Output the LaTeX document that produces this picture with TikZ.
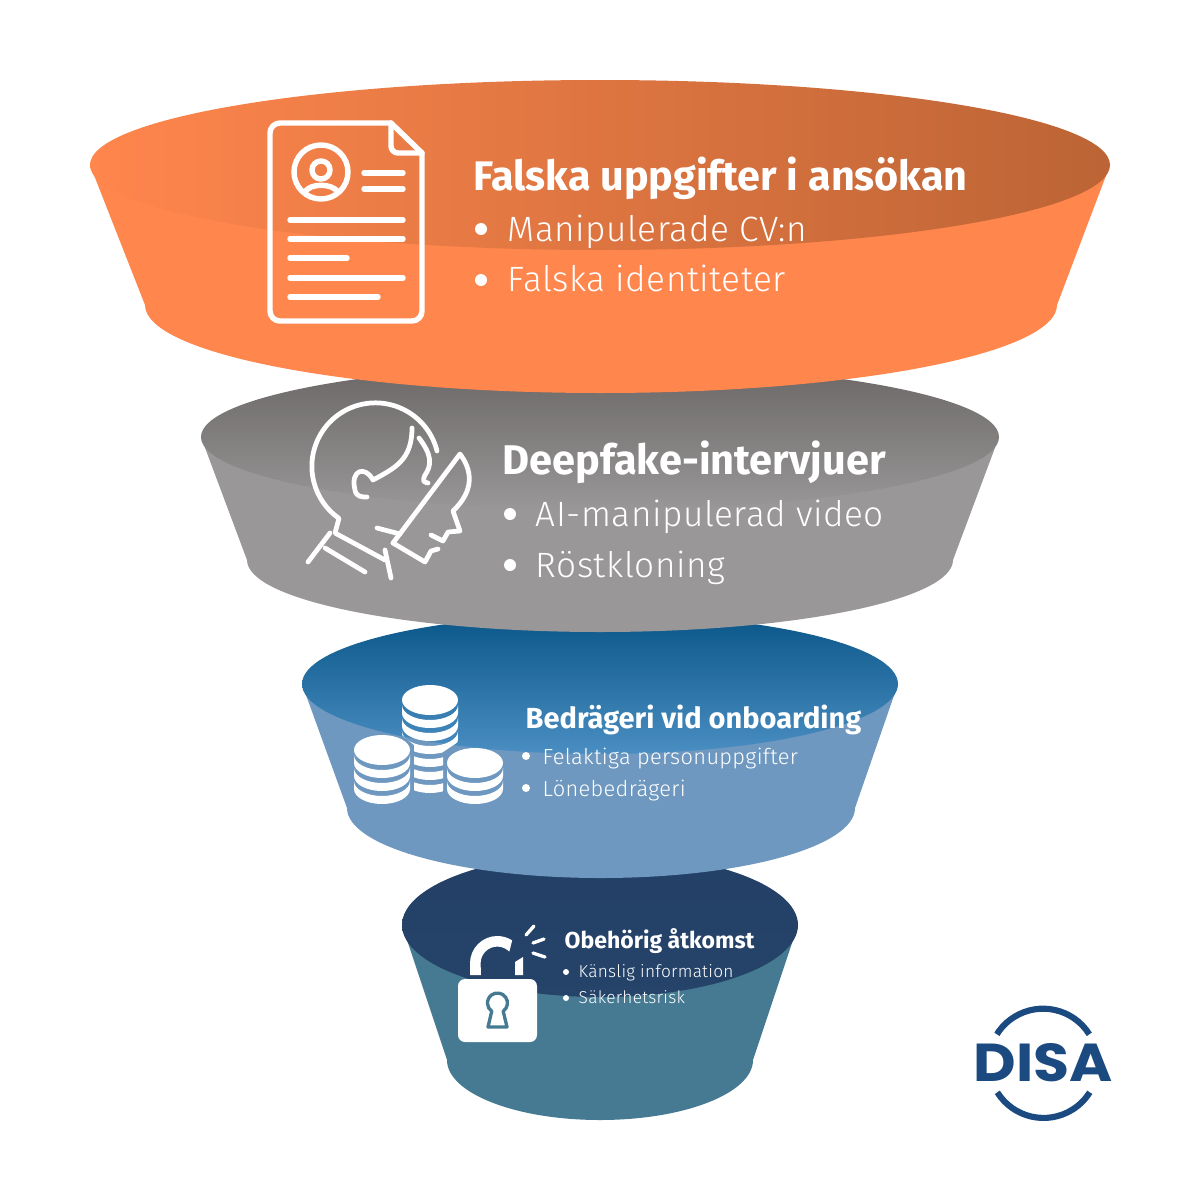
\documentclass[tikz,border=0pt]{standalone}
\usepackage{fontspec}
\usepackage{graphicx}
\setmainfont{Fira Sans}
\newfontfamily\lightfont[LetterSpace=1.5]{Fira Sans Light}
\newfontfamily\logofont{Poppins}
\definecolor{orangebody}{HTML}{FF864D}
\definecolor{orangedark}{HTML}{BC6435}
\definecolor{graybody}{HTML}{999797}
\definecolor{graytop}{HTML}{6A6766}
\definecolor{bluebody}{HTML}{6E98BF}
\definecolor{bluetop}{HTML}{0A5688}
\definecolor{bluelow}{HTML}{4A8EC2}
\definecolor{tealbody}{HTML}{457A92}
\definecolor{tealtop}{HTML}{233F66}
\definecolor{disablue}{HTML}{1B4A80}
\tikzset{
  headtext/.style={white, anchor=base west, inner sep=0pt, font=\bfseries},
  listtext/.style={white, anchor=base west, inner sep=0pt},
  iconline/.style={white, line width=1.55pt, line cap=round, line join=round},
  thinicon/.style={white, line width=1.35pt, line cap=round, line join=round},
}

\begin{document}
\begin{tikzpicture}[x=0.01cm, y=-0.01cm]
\useasboundingbox (0,0) rectangle (1200,1200);

% nederst: lås
\fill[tealbody] (402,925) -- (447,1060) arc[start angle=180, end angle=0, x radius=153, y radius=60] -- (798,925) -- cycle;
\shade[top color=tealtop, bottom color=tealtop!92!tealbody] (600,925) ellipse [x radius=198, y radius=72];

% mynt
\fill[bluebody] (302,684) -- (347,808) arc[start angle=180, end angle=0, x radius=254, y radius=70] -- (898,684) -- cycle;
\shade[top color=bluetop, bottom color=bluelow] (600,684) ellipse [x radius=298, y radius=70];

% grå
\fill[graybody] (201,437) -- (247,560) arc[start angle=180, end angle=0, x radius=353, y radius=72] -- (999,437) -- cycle;
\shade[top color=graytop, bottom color=graybody] (600,437) ellipse [x radius=399, y radius=73];

% orange
\fill[orangebody] (90,165) -- (145,305) arc[start angle=180, end angle=0, x radius=456, y radius=88] -- (1110,165) -- cycle;
\shade[left color=orangebody, right color=orangedark] (600,165) ellipse [x radius=510, y radius=85];

% dokument
\draw[iconline] (391,123) -- (280,123) arc[start angle=-90, end angle=-180, radius=10] -- (270,311)
  arc[start angle=180, end angle=90, radius=10] -- (412,321) arc[start angle=90, end angle=0, radius=10] -- (422,153) -- cycle;
\draw[iconline] (391,123) -- (391,146) arc[start angle=180, end angle=90, radius=7] -- (422,153);
\draw[iconline] (321,172) circle [radius=27];
\draw[iconline] (321,170) circle [radius=9];
\draw[iconline] (305,192) .. controls (310,183) and (332,183) .. (338,192);
\foreach \y/\xa/\xb in {173/364/403, 189/364/403, 220/290/403, 239/290/403, 258/290/347, 278/290/403, 297/290/378}
  \draw[iconline] (\xa,\y) -- (\xb,\y);

% huvud och kniv
\draw[thinicon] (437,451) arc[start angle=-14, end angle=-235, radius=63.5] -- (335,533) -- (385,560);
\draw[thinicon] (330,533) -- (308,562);
\draw[thinicon] (325,548) -- (365,572);
\draw[thinicon] (385,550) -- (391,578);
\draw[thinicon] (412,428) .. controls (412,460) and (395,468) .. (373,480)
  .. controls (365,465) and (350,470) .. (355,490) .. controls (356,497) and (362,497) .. (367,497);
\draw[thinicon] (419,438) .. controls (432,455) and (432,465) .. (425,475) .. controls (422,482) and (424,482) .. (428,483);
\draw[thinicon] (377,528) -- (400,534);
\draw[thinicon] (393,543) -- (460,454) .. controls (472,470) and (475,490) .. (453,511)
  -- (460,531) -- (448,532) -- (443,541) -- (431,535);
\draw[thinicon] (393,543) -- (425,562) -- (431,551) -- (438,549);

% myntstaplar
\begin{scope}
\clip (402,700) -- (458,700) -- (458,742) -- (443,752) -- (443,810) -- (414,810) -- (414,745) -- (402,735) -- cycle;
\foreach \k in {2,...,5}
  \fill[white] (402,{705+13*\k}) arc[start angle=180, end angle=0, x radius=28, y radius=15] -- ++(0,8)
    arc[start angle=0, end angle=180, x radius=28, y radius=15] -- cycle;
\end{scope}
\foreach \k in {0,1}
  \fill[white] (402,{705+13*\k}) arc[start angle=180, end angle=0, x radius=28, y radius=15] -- ++(0,8)
    arc[start angle=0, end angle=180, x radius=28, y radius=15] -- cycle;
\fill[white] (430,700) ellipse [x radius=28, y radius=15];
\foreach \cx/\cy/\n in {382/750/2, 475/763/1} {
  \fill[white] (\cx,\cy) ellipse [x radius=28, y radius=15];
  \foreach \k in {0,...,\n}
    \fill[white] ({\cx-28},{\cy+5+13*\k}) arc[start angle=180, end angle=0, x radius=28, y radius=15] -- ++(0,8)
      arc[start angle=0, end angle=180, x radius=28, y radius=15] -- cycle;
}

% hänglås
\fill[white, rounded corners=2pt] (458,979) rectangle (537,1042);
\fill[white] (470,975) -- (470,963.3) arc[start angle=-180, end angle=-57, radius=27.3]
  -- (509.3,951.7) arc[start angle=-44, end angle=-180, radius=16.7] -- (481,975) -- cycle;
\fill[white] (515,975) -- (523,975) -- (523,957) -- (515,962) -- cycle;
\draw[tealbody, line width=0.95pt, line join=round] (507,1027) -- (503.2,1011.2)
  arc[start angle=55, end angle=-235, radius=10] -- (488,1027) -- cycle;
\draw[thinicon, line width=0.95pt] (526,935) -- (534,926);
\draw[thinicon, line width=0.95pt] (533,943) -- (544,939);
\draw[thinicon, line width=0.95pt] (533,953) -- (545,957);

% texter
\node[headtext, font=\fontsize{11.75}{13}\bfseries] (rubrikett) at (473,190) {Falska uppgifter i ansökan};
\fill[white] (481,229) circle [radius=6];
\node[listtext, font=\fontsize{10}{12}\lightfont] (cv) at (507,241) {Manipulerade CV:n};
\fill[white] (481,280) circle [radius=6];
\node[listtext, font=\fontsize{10}{12}\lightfont] (identitet) at (507,291) {Falska identiteter};

\node[headtext, font=\fontsize{11.8}{13}\bfseries] (rubriktva) at (502,474) {Deepfake-intervjuer};
\fill[white] (510,514) circle [radius=6];
\node[listtext, font=\fontsize{10}{12}\lightfont] (video) at (535,526) {AI-manipulerad video};
\fill[white] (510,565) circle [radius=6];
\node[listtext, font=\fontsize{10}{12}\lightfont] (rost) at (535,577) {Röstkloning};

\node[headtext, font=\fontsize{8.25}{10}\bfseries] (rubriktre) at (525,728) {Bedrägeri vid onboarding};
\fill[white] (526,756) circle [radius=4];
\node[listtext, font=\fontsize{6.2}{8}\lightfont] (person) at (542,764) {Felaktiga personuppgifter};
\fill[white] (526,788) circle [radius=4];
\node[listtext, font=\fontsize{6.2}{8}\lightfont] (lon) at (542,796) {Lönebedrägeri};

\node[headtext, font=\fontsize{6.55}{8}\bfseries] (rubrikfyra) at (564,948) {Obehörig åtkomst};
\fill[white] (566,972) circle [radius=3];
\node[listtext, font=\fontsize{4.9}{6}\lightfont] (kanslig) at (578,977) {Känslig information};
\fill[white] (566,998) circle [radius=3];
\node[listtext, font=\fontsize{4.9}{6}\lightfont] (sakerhet) at (578,1003) {Säkerhetsrisk};

% logotyp
\draw[disablue, line width=1.75pt] (1089.3,1034.3) arc[start angle=-32, end angle=-148, radius=54.5];
\draw[disablue, line width=1.75pt] (997.3,1092.3) arc[start angle=148, end angle=32, radius=54.5];
\node[disablue, anchor=west, inner sep=0pt] (logo) at (973,1062.5)
  {\resizebox{1.39cm}{0.38cm}{\logofont\bfseries DISA}};
\end{tikzpicture}
\end{document}
